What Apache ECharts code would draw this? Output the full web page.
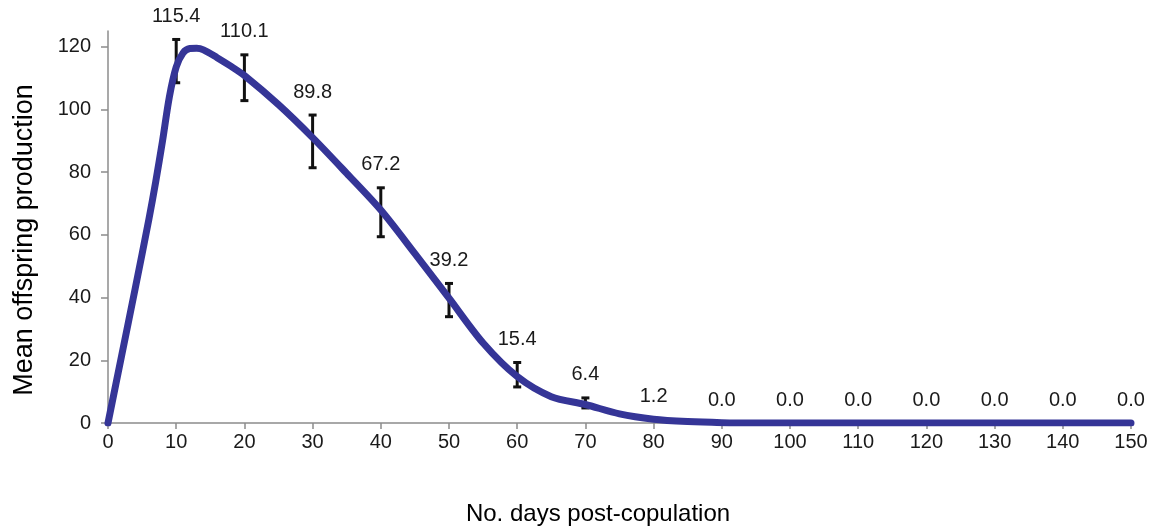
<!DOCTYPE html>
<html>
<head>
<meta charset="utf-8">
<script src="https://cdn.jsdelivr.net/npm/echarts@6/dist/echarts.min.js"></script>
<style>
  html, body { margin: 0; padding: 0; background: #fff; }
  #chart { width: 1159px; height: 531px; }
</style>
</head>
<body>
<div id="chart"></div>
<script>
// Fitted reproduction curve (day, mean offspring)
const curveDays   = [0, 2, 4, 6, 7, 8, 9, 10, 11, 12, 13, 14, 16, 18, 20, 25, 30, 35, 40, 45, 50, 55, 60, 65, 70, 75, 80, 85, 90, 95, 100, 150];
const curveValues = [0, 21.5, 43, 65, 77, 90, 104, 113.5, 118, 119.4, 119.5, 119, 116.5, 113.8, 110.8, 101.5, 91, 79.6, 67.9, 54, 39.8, 25.5, 14.8, 8.4, 5.9, 2.9, 1.2, 0.45, 0.1, 0, 0, 0];

// Observed means with error bar half-widths
const obsDays   = [10, 20, 30, 40, 50, 60, 70, 80, 90, 100, 110, 120, 130, 140, 150];
const obsMeans  = [115.4, 110.1, 89.8, 67.2, 39.2, 15.4, 6.4, 1.2, 0.0, 0.0, 0.0, 0.0, 0.0, 0.0, 0.0];
const obsErrors = [6.9, 7.3, 8.4, 7.8, 5.3, 3.9, 1.6, 0, 0, 0, 0, 0, 0, 0, 0];

const yTicks = [0, 20, 40, 60, 80, 100, 120];

const FONT = '"Liberation Sans", Arial, sans-serif';

const chart = echarts.init(document.getElementById('chart'), null, { renderer: 'canvas' });

const curveData = curveDays.map((d, i) => [d, curveValues[i]]);
const obsData = obsDays.map((d, i) => [d, obsMeans[i], obsMeans[i] - obsErrors[i], obsMeans[i] + obsErrors[i]]);

function renderErrorBar(params, api) {
  const x = api.value(0);
  const mean = api.value(1);
  const lo = api.value(2);
  const hi = api.value(3);
  const pLo = api.coord([x, lo]);
  const pHi = api.coord([x, hi]);
  const cap = 4;
  const children = [];
  if (hi > lo) {
    const stroke = { stroke: '#111', lineWidth: 3 };
    children.push(
      { type: 'line', shape: { x1: pLo[0], y1: pLo[1], x2: pHi[0], y2: pHi[1] }, style: stroke },
      { type: 'line', shape: { x1: pHi[0] - cap, y1: pHi[1], x2: pHi[0] + cap, y2: pHi[1] }, style: stroke },
      { type: 'line', shape: { x1: pLo[0] - cap, y1: pLo[1], x2: pLo[0] + cap, y2: pLo[1] }, style: stroke }
    );
  }
  children.push({
    type: 'text',
    style: {
      text: mean.toFixed(1),
      x: pHi[0],
      y: pHi[1] - 23,
      align: 'center',
      verticalAlign: 'middle',
      font: '20px ' + FONT,
      fill: '#1a1a1a'
    }
  });
  return { type: 'group', children: children };
}

chart.setOption({
  animation: false,
  backgroundColor: '#fff',
  grid: { left: 108, right: 28, top: 31, bottom: 108, containLabel: false },
  xAxis: {
    type: 'value',
    min: 0,
    max: 150,
    interval: 10,
    axisLine: { show: true, lineStyle: { color: '#8c8c8c', width: 1.5 } },
    axisTick: { show: true, length: 6, lineStyle: { color: '#8c8c8c', width: 1.5 } },
    axisLabel: { color: '#1a1a1a', fontSize: 20, fontFamily: FONT, margin: 9 },
    splitLine: { show: false }
  },
  yAxis: {
    type: 'value',
    min: 0,
    max: 125,
    axisLine: { show: true, lineStyle: { color: '#8c8c8c', width: 1.5 } },
    axisTick: { show: true, length: 7, customValues: yTicks, lineStyle: { color: '#8c8c8c', width: 1.5 } },
    axisLabel: { color: '#1a1a1a', fontSize: 20, fontFamily: FONT, margin: 17, customValues: yTicks },
    splitLine: { show: false }
  },
  graphic: [
    {
      type: 'text',
      x: 25,
      y: 240,
      rotation: Math.PI / 2,
      style: {
        text: 'Mean offspring production',
        font: '27px ' + FONT,
        fill: '#000',
        align: 'center',
        verticalAlign: 'middle'
      }
    },
    {
      type: 'text',
      x: 598,
      y: 514,
      style: {
        text: 'No. days post-copulation',
        font: '24px ' + FONT,
        fill: '#000',
        align: 'center',
        verticalAlign: 'middle'
      }
    }
  ],
  series: [
    {
      type: 'custom',
      name: 'observed',
      renderItem: renderErrorBar,
      data: obsData,
      encode: { x: 0, y: [1, 2, 3] },
      z: 2,
      clip: false
    },
    {
      type: 'line',
      name: 'fitted',
      data: curveData,
      smooth: 0.3,
      showSymbol: false,
      lineStyle: { color: '#353597', width: 7, cap: 'round', join: 'round' },
      z: 3
    }
  ]
});
</script>
</body>
</html>
